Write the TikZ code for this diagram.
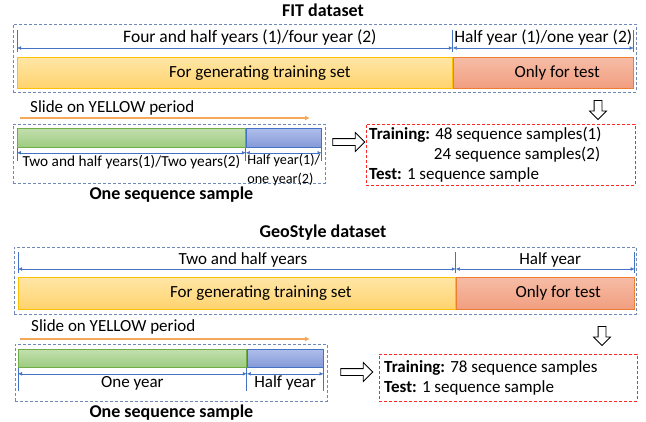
\documentclass[tikz,border=0pt]{standalone}
\usepackage{fontspec}
\setmainfont{Carlito}
\usetikzlibrary{arrows.meta,shapes.arrows,positioning}

\definecolor{frameblue}{HTML}{6F88B8}
\definecolor{dimblue}{HTML}{4472C4}
\definecolor{goldline}{HTML}{FFC000}
\definecolor{goldtop}{HTML}{FFE6A6}
\definecolor{goldbot}{HTML}{FFD36E}
\definecolor{redline}{HTML}{ED7D31}
\definecolor{redtop}{HTML}{F6BCA6}
\definecolor{redbot}{HTML}{F19E80}
\definecolor{greenline}{HTML}{70AD47}
\definecolor{greentop}{HTML}{C2DFAE}
\definecolor{greenbot}{HTML}{9DCB80}
\definecolor{bluetop}{HTML}{AEBDEA}
\definecolor{bluebot}{HTML}{8599D8}
\definecolor{slideorange}{HTML}{F4A95A}

\tikzset{
    title/.style={font=\fontsize{18}{20}\selectfont\bfseries},
    framebox/.style={draw=frameblue, dashed, dash pattern=on 3pt off 2pt, thick, inner sep=0pt},
    resbox/.style={draw=red!85!white, dashed, dash pattern=on 3pt off 2pt, thick, inner sep=0pt},
    bar/.style={inner sep=0pt, line width=0.8pt},
    trainbar/.style={bar, draw=goldline, top color=goldtop, bottom color=goldbot},
    testbar/.style={bar, draw=redline, top color=redtop, bottom color=redbot},
    histbar/.style={bar, draw=greenline, top color=greentop, bottom color=greenbot},
    futbar/.style={bar, draw=dimblue, top color=bluetop, bottom color=bluebot},
    dim/.style={dimblue, {Latex[length=4pt,width=3.5pt]}-{Latex[length=4pt,width=3.5pt]}},
    dimtext/.style={text=black, inner sep=2pt},
    smalltext/.style={font=\fontsize{15.3}{18}\selectfont},
    tick/.style={dimblue, line width=0.7pt},
    slide/.style={slideorange, line width=1.6pt, -{Latex[length=5pt,width=5pt]}},
    hollowright/.style={single arrow, draw=black, fill=white, thick, inner sep=3pt,
        minimum height=32pt, single arrow head extend=6pt, single arrow head indent=0pt},
    hollowdown/.style={hollowright, shape border rotate=270, minimum height=19pt,
        inner sep=3.5pt, single arrow head extend=4.5pt}
}

\begin{document}
\begin{tikzpicture}[x=1pt, y=-1pt, font=\fontsize{17}{20}\selectfont]
    \useasboundingbox (0,0) rectangle (646,421);

    %FIT dataset
    \node[title] (fittitle) at (323,10) {FIT dataset};
    \node[framebox, anchor=north west, minimum width=623pt, minimum height=68pt] (fitbox) at (13,24) {};
    \node[trainbar, anchor=north west, minimum width=435pt, minimum height=31pt] (fittrain) at (17,57) {};
    \node[testbar, anchor=north west, minimum width=180pt, minimum height=31pt] (fittest) at (fittrain.north east) {};
    \node (fittrainlab) at ([xshift=25pt]fittrain.center) {For generating training set};
    \node (fittestlab) at ([xshift=14pt]fittest.center) {Only for test};
    %ticks and lengths
    \foreach \n in {fittrain.north west, fittrain.north east, fittest.north east}
        {%
            \draw[tick] ([yshift=5pt]\n) -- ([yshift=27pt]\n);
        }
    \draw[dim] ([yshift=9pt]fittrain.north west) -- ([yshift=9pt]fittrain.north east)
        node[midway, above, dimtext, xshift=15pt, font=\fontsize{17.5}{20}\selectfont] (fittrainlen) {Four and half years (1)/four year (2)};
    \draw[dim] ([yshift=9pt]fittest.north west) -- ([yshift=9pt]fittest.north east)
        node[midway, above, dimtext, font=\fontsize{17.4}{20}\selectfont] (fittestlen) {Half year (1)/one year (2)};

    %FIT sliding sample
    \node[anchor=west, inner sep=0pt] (fitslide) at (30,108) {Slide on YELLOW period};
    \coordinate (fitslidea) at (20,118);
    \coordinate (fitslideb) at (310,118);
    \draw[slide] (fitslidea) -- (fitslideb);
    \node[framebox, anchor=north west, minimum width=312pt, minimum height=59pt] (fitsamp) at (13,124) {};
    \node[histbar, anchor=north west, minimum width=228pt, minimum height=19pt] (fithist) at (17,128) {};
    \node[futbar, anchor=north west, minimum width=75pt, minimum height=19pt] (fitfut) at (fithist.north east) {};
    \foreach \n in {fithist.south west, fithist.south east, fitfut.south east}
        {%
            \draw[tick] (\n) -- ([yshift=-13pt]\n);
        }
    \draw[dim] ([yshift=-5pt]fithist.south west) -- ([yshift=-5pt]fithist.south east)
        node[midway, below, dimtext, smalltext] (fithistlen) {Two and half years(1)/Two years(2)};
    \draw[dim] ([yshift=-5pt]fitfut.south west) -- ([yshift=-5pt]fitfut.south east)
        node[midway, below, dimtext, inner sep=1pt, align=left, font=\fontsize{14.2}{19}\selectfont] (fitfutlen) {Half year(1)/\\one year(2)};
    \node[title, below=0pt of fitsamp, xshift=2pt] (fitsamplab) {One sequence sample};

    %FIT result
    \node[hollowright] (fitarr) at (347,142) {};
    \node[hollowdown] (fitdown) at (598,108) {};
    \node[resbox, anchor=north west, minimum width=269pt, minimum height=61pt] (fitres) at (366,124) {};
    \node[anchor=west, align=left, inner sep=3pt] (fitrestxt) at (fitres.west)
        {\textbf{Training:} 48 sequence samples(1)\\
         \phantom{\textbf{Training:}} 24 sequence samples(2)\\
         \textbf{Test:} 1 sequence sample};

    %GeoStyle dataset
    \node[title] (geotitle) at (323,233) {GeoStyle dataset};
    \node[framebox, anchor=north west, minimum width=622pt, minimum height=67pt] (geobox) at (14,247) {};
    \node[trainbar, anchor=north west, minimum width=437pt, minimum height=32pt] (geotrain) at (18,277) {};
    \node[testbar, anchor=north west, minimum width=178pt, minimum height=32pt] (geotest) at (geotrain.north east) {};
    \node (geotrainlab) at ([xshift=24pt]geotrain.center) {For generating training set};
    \node (geotestlab) at ([xshift=13pt]geotest.center) {Only for test};
    %ticks and lengths
    \foreach \n in {geotrain.north west, geotrain.north east, geotest.north east}
        {%
            \draw[tick] ([yshift=4pt]\n) -- ([yshift=25pt]\n);
        }
    \draw[dim] ([yshift=8pt]geotrain.north west) -- ([yshift=8pt]geotrain.north east)
        node[midway, above, dimtext, xshift=6pt] (geotrainlen) {Two and half years};
    \draw[dim] ([yshift=8pt]geotest.north west) -- ([yshift=8pt]geotest.north east)
        node[midway, above, dimtext, xshift=5pt] (geotestlen) {Half year};

    %GeoStyle sliding sample
    \node[anchor=west, inner sep=0pt] (geoslide) at (31,327) {Slide on YELLOW period};
    \coordinate (geoslidea) at (20,339);
    \coordinate (geoslideb) at (310,339);
    \draw[slide] (geoslidea) -- (geoslideb);
    \node[framebox, anchor=north west, minimum width=312pt, minimum height=57pt] (geosamp) at (15,344) {};
    \node[histbar, anchor=north west, minimum width=228pt, minimum height=18pt] (geohist) at (18,349) {};
    \node[futbar, anchor=north west, minimum width=76pt, minimum height=18pt] (geofut) at (geohist.north east) {};
    \foreach \n in {geohist.south west, geohist.south east, geofut.south east}
        {%
            \draw[tick] (\n) -- ([yshift=-23pt]\n);
        }
    \draw[dim] ([yshift=-6pt]geohist.south west) -- ([yshift=-6pt]geohist.south east)
        node[midway, below, dimtext] (geohistlen) {One year};
    \draw[dim] ([yshift=-6pt]geofut.south west) -- ([yshift=-6pt]geofut.south east)
        node[midway, below, dimtext] (geofutlen) {Half year};
    \node[title, below=0pt of geosamp] (geosamplab) {One sequence sample};

    %GeoStyle result
    \node[hollowright] (geoarr) at (355,372) {};
    \node[hollowdown] (geodown) at (602,334) {};
    \node[resbox, anchor=north west, minimum width=258pt, minimum height=47pt] (geores) at (379,354) {};
    \node[anchor=west, align=left, inner sep=5pt] (georestxt) at (geores.west)
        {\textbf{Training:} 78 sequence samples\\
         \textbf{Test:} 1 sequence sample};
\end{tikzpicture}
\end{document}
